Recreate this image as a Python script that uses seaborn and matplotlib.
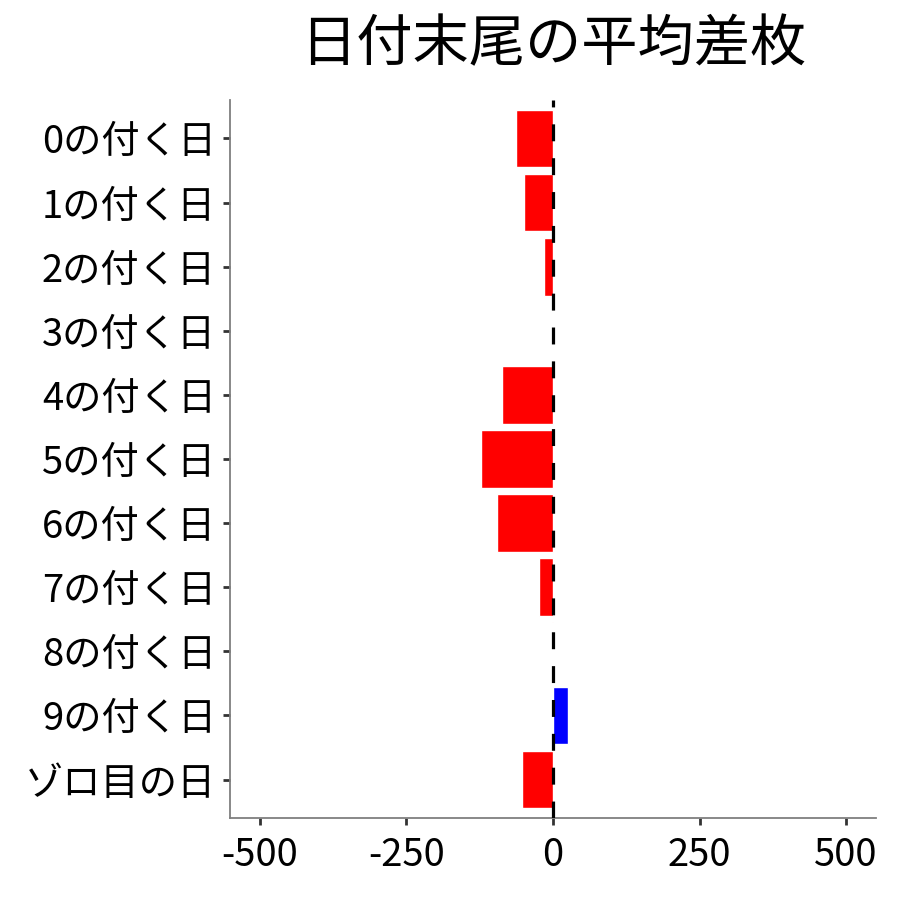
import matplotlib
matplotlib.use("Agg")
import matplotlib.pyplot as plt
import seaborn as sns
import pandas as pd

categories = ["0の付く日", "1の付く日", "2の付く日", "3の付く日", "4の付く日",
              "5の付く日", "6の付く日", "7の付く日", "8の付く日", "9の付く日", "ゾロ目の日"]
values = [-63, -49, -15, 2, -87, -123, -96, -24, -2, 26, -53]
xticks = [-500, -250, 0, 250, 500]
title = "日付末尾の平均差枚"

sns.set_theme(style="white")
plt.rcParams['font.family'] = ['Noto Sans CJK JP', 'DejaVu Sans']

df = pd.DataFrame({"cat": categories, "val": values})
df["sign"] = ["pos" if v > 0 else "neg" for v in values]

fig = plt.figure(figsize=(9, 9), dpi=100)
ax = fig.add_axes([0.2556, 0.0911, 0.7178, 0.7978])

sns.barplot(data=df, x="val", y="cat", hue="sign", order=categories,
            palette={"neg": "#FF0000", "pos": "#0000FF"}, width=0.9,
            dodge=False, legend=False, ax=ax, saturation=1, orient="h")

ax.axvline(0, color="black", lw=2.3, ls=(0, (5.3, 5.3)), zorder=5)

ax.set_xlim(-551, 551)
ax.set_ylim(10.6, -0.6)
ax.set_xticks(xticks)
ax.set_xticklabels([str(t) for t in xticks])
ax.set_xlabel("")
ax.set_ylabel("")
ax.set_title(title, fontsize=40.5, pad=28, color="black")

for s in ["top", "right"]:
    ax.spines[s].set_visible(False)
for s in ["left", "bottom"]:
    ax.spines[s].set_color("#7f7f7f")
    ax.spines[s].set_linewidth(1.3)

ax.tick_params(axis="both", which="both", length=5, width=2, color="#333333",
               labelsize=27.5, labelcolor="black", direction="out",
               left=True, bottom=True)
ax.tick_params(axis="x", pad=8)
ax.tick_params(axis="y", pad=5)

fig.savefig("out.png", dpi=100)
